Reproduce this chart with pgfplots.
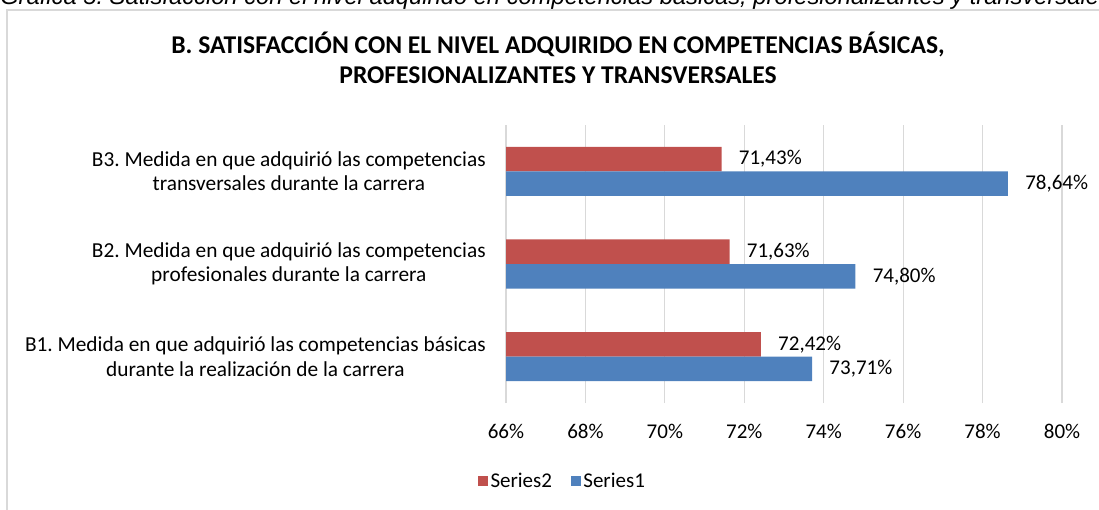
\documentclass[border=0pt]{standalone}
\usepackage{pgfplots}
\pgfplotsset{compat=1.18}
\usepackage{fontspec}
\setmainfont{Carlito}
\newfontfamily\capfont{Liberation Sans}
\definecolor{sred}{HTML}{C0504D}
\definecolor{sblue}{HTML}{4F81BD}
\definecolor{gridc}{HTML}{D9D9D9}
\frenchspacing
\begin{document}
\begin{tikzpicture}
\useasboundingbox (0,0) rectangle (824.25pt,-382.5pt);
\begin{scope}
\clip (0,0) rectangle (824.25pt,-382.5pt);
\node[anchor=base west, inner sep=0pt, font=\capfont\itshape\fontsize{17.8}{21}\selectfont] at (0pt,-3.75pt) {Gráfica 5. Satisfacción con el nivel adquirido en competencias básicas, profesionalizantes y transversales};
\draw[gridc, line width=1.5pt] (5.6pt,-400pt) -- (5.6pt,-7.5pt) -- (900pt,-7.5pt);
\end{scope}
\node[anchor=base, inner sep=0pt, font=\bfseries\fontsize{19.2}{23}\selectfont] at (418.5pt,-40pt) {B. SATISFACCIÓN CON EL NIVEL ADQUIRIDO EN COMPETENCIAS BÁSICAS,};
\node[anchor=base, inner sep=0pt, font=\bfseries\fontsize{19.2}{23}\selectfont] at (418.5pt,-62.5pt) {PROFESIONALIZANTES Y TRANSVERSALES};
\begin{axis}[
  at={(379.5pt,-302.25pt)}, anchor=south west,
  scale only axis, width=417pt, height=208.5pt,
  xbar, bar width=18.4pt,
  xmin=66, xmax=80, ymin=-0.5, ymax=2.5,
  xtick={66,68,...,80},
  xticklabel={\pgfmathprintnumber{\tick}\%},
  /pgf/number format/assume math mode=true,
  ytick={0,1,2},
  yticklabels={{B1. Medida en que adquirió las competencias básicas\\durante la realización de la carrera},
               {B2. Medida en que adquirió las competencias\\profesionales durante la carrera},
               {B3. Medida en que adquirió las competencias\\transversales durante la carrera}},
  xmajorgrids, major grid style={gridc, line width=0.9pt},
  axis x line=bottom, axis y line=left,
  axis line style={draw=none},
  major tick length=0pt,
  y tick label style={align=center, font=\fontsize{16}{18.4}\selectfont\frenchspacing, inner sep=0pt, xshift=-15pt},
  x tick label style={font=\fontsize{15.75}{18.4}\selectfont, inner sep=0pt, anchor=north, yshift=-16pt},
  point meta=x,
  nodes near coords={\pgfmathprintnumber[fixed,fixed zerofill,precision=2,use comma]{\pgfplotspointmeta}\%},
  nodes near coords style={anchor=west, inner sep=0pt, xshift=12.75pt, font=\fontsize{15.75}{18.4}\selectfont, text=black},
  legend style={at={(0.102,-0.2806)}, anchor=center, draw=none, legend columns=2,
    font=\fontsize{15.75}{18.4}\selectfont,
    /tikz/every even column/.append style={column sep=12pt}},
  legend image code/.code={\fill[#1] (0pt,-3.75pt) rectangle (7.5pt,3.75pt);},
]
\addplot[fill=sred, draw=none, bar shift=9.2pt] coordinates {(72.42,0) (71.63,1) (71.43,2)};
\addlegendentry{Series2}
\addplot[fill=sblue, draw=none, bar shift=-9.2pt] coordinates {(73.71,0) (74.80,1) (78.64,2)};
\addlegendentry{Series1}
\end{axis}
\end{tikzpicture}
\end{document}
